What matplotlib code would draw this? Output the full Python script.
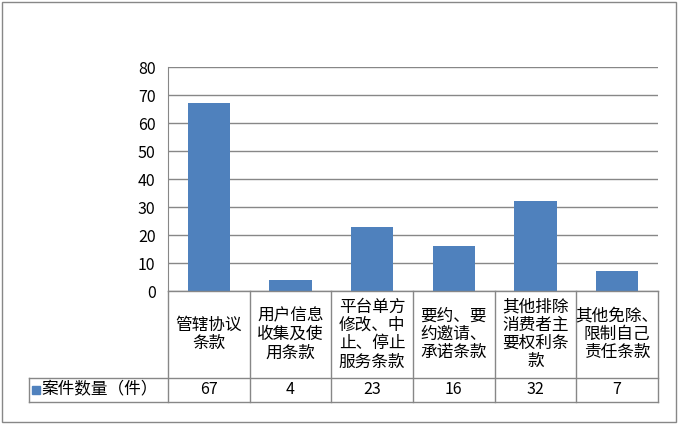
import matplotlib
matplotlib.use("Agg")
import matplotlib.pyplot as plt
from matplotlib.lines import Line2D
from matplotlib.patches import Rectangle
from matplotlib import transforms

plt.rcParams['font.family'] = ['Noto Sans CJK SC', 'DejaVu Sans']

categories = [
    "管辖协议\n条款",
    "用户信息\n收集及使\n用条款",
    "平台单方\n修改、中\n止、停止\n服务条款",
    "要约、要\n约邀请、\n承诺条款",
    "其他排除\n消费者主\n要权利条\n款",
    "其他免除、\n限制自己\n责任条款",
]
counts = [67, 4, 23, 16, 32, 7]
series_name = "案件数量（件）"
yticks = [0, 10, 20, 30, 40, 50, 60, 70, 80]

bar_color = "#4F81BD"
line_color = "#878787"
W, H = 678, 424

fig = plt.figure(figsize=(W / 100, H / 100), dpi=100)
fig.patch.set_facecolor("white")

# plot area in pixels
left, right, top, bottom = 168, 658, 67, 291
ax = fig.add_axes([left / W, 1 - bottom / H, (right - left) / W, (bottom - top) / H])

x = [i + 0.5 for i in range(len(counts))]
ax.bar(x, counts, width=0.52, color=bar_color, zorder=3)
ax.set_xlim(0, len(counts))
ax.set_ylim(0, 80)
ax.set_yticks(yticks)
ax.set_xticks([])
ax.tick_params(axis="y", length=0, pad=9, labelsize=11.5)
ax.yaxis.grid(True, color=line_color, linewidth=1)
for s in ["top", "right", "bottom"]:
    ax.spines[s].set_visible(False)
ax.spines["left"].set_color(line_color)

# data table under the chart
tr = transforms.blended_transform_factory(ax.transData, fig.transFigure)
y_top = 1 - bottom / H
y_mid = 1 - 378 / H
y_bot = 1 - 402 / H
x_leg = 29 / W

def fline(xs, ys, transform):
    fig.add_artist(Line2D(xs, ys, color=line_color, linewidth=1, transform=transform))

fline([0, len(counts)], [y_top, y_top], tr)
fline([x_leg, right / W], [y_mid, y_mid], fig.transFigure)
fline([x_leg, right / W], [y_bot, y_bot], fig.transFigure)
fline([x_leg, x_leg], [y_mid, y_bot], fig.transFigure)
for i in range(len(counts) + 1):
    fline([i, i], [y_top, y_bot], tr)

for i, (cat, val) in enumerate(zip(categories, counts)):
    fig.text(i + 0.5, (y_top + y_mid) / 2, cat, transform=tr, ha="center", va="center",
             fontsize=12, linespacing=1.1)
    fig.text(i + 0.5, (y_mid + y_bot) / 2, str(val), transform=tr, ha="center", va="center",
             fontsize=11.5)

# legend key in the table
fig.add_artist(Rectangle((32 / W, 1 - 394 / H), 8 / W, 8 / H, color=bar_color,
                         transform=fig.transFigure))
fig.text(41 / W, (y_mid + y_bot) / 2, series_name, ha="left", va="center", fontsize=12)

# outer chart border
fig.add_artist(Rectangle((2 / W, 2 / H), (W - 4) / W, (H - 4) / H, fill=False,
                         edgecolor=line_color, linewidth=1, transform=fig.transFigure))

fig.savefig("out.png", dpi=100)
